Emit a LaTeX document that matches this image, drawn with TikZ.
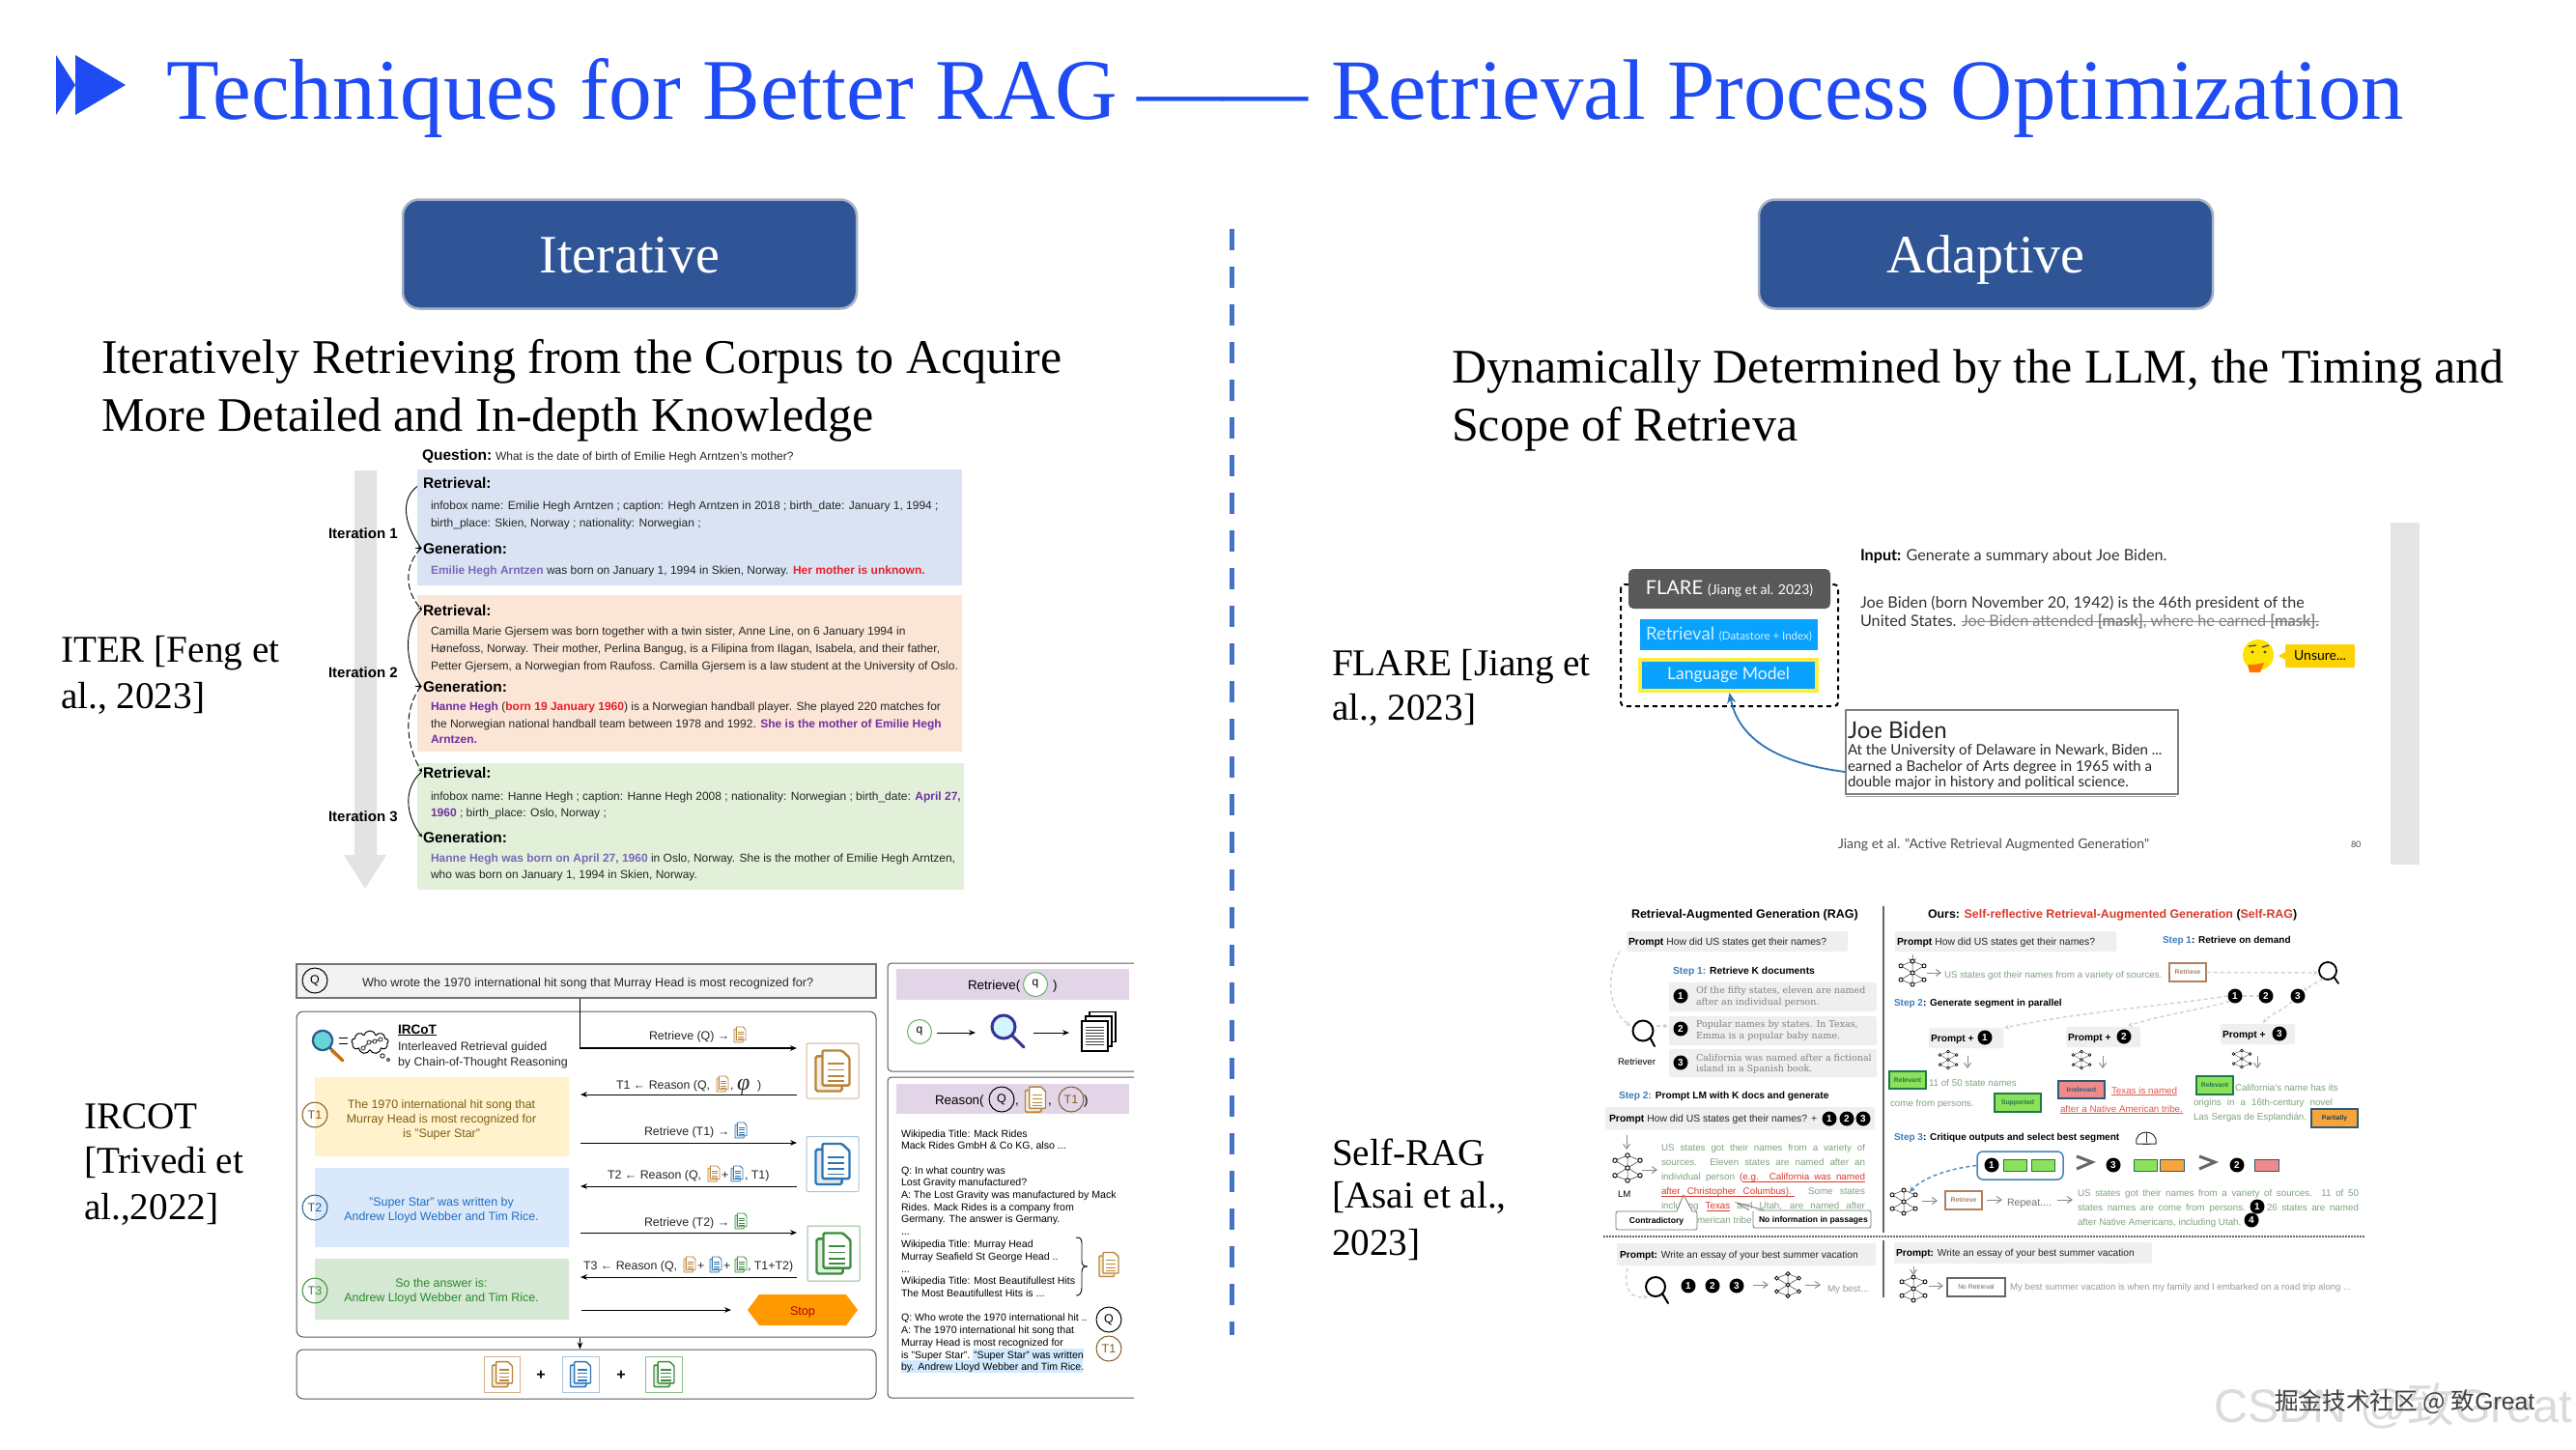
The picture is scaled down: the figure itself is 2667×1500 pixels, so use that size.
\documentclass[tikz,border=0pt]{standalone}
\usepackage{fontspec}
\usepackage{xcolor}
\usetikzlibrary{arrows.meta,shapes.symbols,shapes.geometric}
\setmainfont{Liberation Sans}
\newfontfamily\ser{Liberation Serif}
\newfontfamily\lat{Lato}
\newfontfamily\slab{DejaVu Serif}
\newfontfamily\cjk{Noto Sans CJK SC}
\definecolor{tblue}{HTML}{1F4BF5}
\definecolor{hbox}{HTML}{2F5597}
\definecolor{hedge}{HTML}{A5B3C4}
\definecolor{divb}{HTML}{4472C4}
\definecolor{pb}{HTML}{DAE3F3}
\definecolor{po}{HTML}{FBE5D6}
\definecolor{pg}{HTML}{E2F0D9}
\definecolor{lpur}{HTML}{7B68B8}
\definecolor{dpur}{HTML}{7030A0}
\definecolor{rred}{HTML}{E8202A}
\definecolor{docO}{HTML}{B9853A}
\definecolor{docB}{HTML}{2F74B5}
\definecolor{docG}{HTML}{3C8C3C}
\definecolor{frO}{HTML}{D0B48C}
\definecolor{frB}{HTML}{A9C4DC}
\definecolor{frG}{HTML}{8FBC8F}
\definecolor{boxY}{HTML}{FFF2CC}
\definecolor{boxB}{HTML}{DAE8FC}
\definecolor{boxG}{HTML}{D5E8D4}
\definecolor{tY}{HTML}{7F5F14}
\definecolor{tB}{HTML}{1F6FC0}
\definecolor{tG}{HTML}{2A8A2A}
\definecolor{lil}{HTML}{E1D5E7}
\definecolor{flareb}{HTML}{0AA2FF}
\definecolor{barg}{HTML}{EFEFEF}
\definecolor{stepb}{HTML}{3A7DBF}
\definecolor{ggr}{HTML}{7FA37F}
\definecolor{sred}{HTML}{D9392B}
\definecolor{tagG}{HTML}{8CE05A}
\definecolor{tagGd}{HTML}{1F7A4A}
\definecolor{tagR}{HTML}{EE8A8A}
\definecolor{tagO}{HTML}{F5A63A}
\definecolor{tagEd}{HTML}{2E5A7A}
\definecolor{tagB}{HTML}{B08060}
\newcount\tn
\newcommand\tx[5][]{\global\advance\tn by 1
  \node[txt,#1] (t\the\tn) at (#2,#3) {\fontsize{#4}{#4}\selectfont #5};}
\newcommand\arr[5]{\global\advance\tn by 1
  \coordinate (as\the\tn) at (#2,#3); \coordinate (ae\the\tn) at (#4,#5);
  \draw[#1] (as\the\tn) -- (ae\the\tn);}
\newcommand\docico[5]{\begin{scope}[shift={(#1,#2)},x=0.5*#3pt,y=-0.5*#4pt]
  \draw[draw=#5,fill=#5!15,line width=0.07*#3pt,rounded corners=0.05*#3pt] (-1,-.72) rectangle (.55,1);
  \draw[draw=#5,fill=white,line width=0.07*#3pt,rounded corners=0.04*#3pt] (-.6,-1) -- (.55,-1) -- (1,-.65) -- (1,.72) -- (-.6,.72) -- cycle;
  \foreach \yy in {-.35,-.05,.25,.5}{\draw[#5,line width=0.055*#3pt] (-.3,\yy) -- (.7,\yy);}
  \end{scope}}
\newcommand\neticon[3]{\begin{scope}[shift={(#1,#2)},x=#3pt,y=-#3pt]
  \draw[black!80,line width=0.04*#3pt] (-1,-.6) -- (0,-1) -- (1,-.6) -- (0,0) -- (-1,-.6) -- (0,.0) -- (-1,.6) -- (0,1) -- (1,.6) -- (0,0) (-1,-.6) -- (1,.6) (-1,.6) -- (1,-.6) (0,-1) -- (0,1);
  \foreach \px/\py in {-1/-.6,-1/.6,0/-1,0/0,0/1,1/-.6,1/.6}{\filldraw[fill=white,draw=black,line width=0.07*#3pt] (\px,\py) circle (.17);}
  \end{scope}}
\newcommand\numc[3]{\global\advance\tn by 1
  \node[numcirc] (n\the\tn) at (#1,#2) {\fontsize{10}{10}\selectfont #3};}
\newcommand\lens[6]{% cx cy r ex ey style
  \draw[#6] (#1,#2) circle (#3);
  \draw[#6,line cap=round] (#1+#3*0.7,#2+#3*0.7) -- (#4,#5);}
\newcommand\tagbox[7]{\global\advance\tn by 1
  \node[fill=#5,draw=#6,line width=1.2,minimum width={(#3-#1)*1pt},minimum height={(#4-#2)*1pt},inner sep=0,text=#7] (g\the\tn) at ({(#1+#3)/2},{(#2+#4)/2}) {\fontsize{6.8}{8}\selectfont\bfseries \tagtext};}
\newcommand\tagtext{}
\tikzset{
  txt/.style={anchor=base west,inner sep=0,outer sep=0},
  ctxt/.style={anchor=base,inner sep=0,outer sep=0},
  numcirc/.style={circle,fill=black,text=white,inner sep=0,minimum size=15pt,font=\bfseries},
  ar/.style={line width=1,-{Stealth[length=7pt,width=5.5pt]}},
  gar/.style={line width=1,draw=black!45,-{Straight Barb[length=5pt,width=7pt]}},
  gdash/.style={line width=1.4,draw=black!18,dash pattern=on 4pt off 3pt,-{Stealth[length=5pt,width=5pt]}},
  cbr/.style={line width=.9,-{Stealth[length=4pt,width=4pt]}},
  cbrd/.style={cbr,dash pattern=on 7pt off 3pt},
  circO/.style={circle,draw=#1,line width=1,inner sep=0,minimum size=26pt,fill=none},
  bar/.style={fill=barg,rounded corners=2},
}
\begin{document}
\begin{tikzpicture}[x=1pt,y=-1pt]
\useasboundingbox (0,0) rectangle (2667,1500);
\fill[white] (0,0) rectangle (2667,1500);
% ---------- title ----------
\fill[tblue] (58,57) -- (78,88) -- (78,57) -- (130,88) -- (78,119) -- (78,88) -- (58,119) -- cycle;
\tx[text=tblue]{172}{123}{89.5}{\ser Techniques for Better RAG}
\tx[text=tblue]{1177}{123}{88.9}{\ser ——}
\tx[text=tblue]{1378}{123}{88.9}{\ser Retrieval Process Optimization}
% headers
\node[fill=hbox,draw=hedge,line width=2.5,rounded corners=17,minimum width=470pt,minimum height=113pt,inner sep=0] (iterbox) at (652,263) {};
\tx[ctxt,text=white]{652}{282}{56}{\ser Iterative}
\node[fill=hbox,draw=hedge,line width=2.5,rounded corners=17,minimum width=470pt,minimum height=113pt,inner sep=0] (adapbox) at (2056,263) {};
\tx[ctxt,text=white]{2056}{282}{56}{\ser Adaptive}
\tx{105}{386}{50}{\ser Iteratively Retrieving from the Corpus to Acquire}
\tx{105}{446}{50}{\ser More Detailed and In-depth Knowledge}
\tx{1503}{396}{50}{\ser Dynamically Determined by the LLM, the Timing and}
\tx{1503}{456}{50}{\ser Scope of Retrieva}
\tx{63}{685}{39.2}{\ser ITER [Feng et}
\tx{63}{733}{39.2}{\ser al., 2023]}
\tx{87}{1168}{39.2}{\ser IRCOT}
\tx{87}{1214}{39.2}{\ser [Trivedi et}
\tx{87}{1262}{39.2}{\ser al.,2022]}
\tx{1379}{699}{39.2}{\ser FLARE [Jiang et}
\tx{1379}{745}{39.2}{\ser al., 2023]}
\tx{1379}{1206}{39.2}{\ser Self-RAG}
\tx{1379}{1250}{39.2}{\ser [Asai et al.,}
\tx{1379}{1299}{39.2}{\ser 2023]}
\arr{divb,line width=5,dash pattern=on 22pt off 17pt}{1275}{237}{1275}{1382}
% ---------- ITER panel ----------
\fill[black!11] (367,487) -- (390,487) -- (390,885) -- (400,885) -- (378,920) -- (356,885) -- (367,885) -- cycle;
\fill[pb] (432,486) rectangle (996,606);
\fill[po] (432,616) rectangle (996,778);
\fill[pg] (432,790) rectangle (998,921);
\tx{437}{476}{15.5}{\bfseries Question:}
\tx[text=black!85]{513}{476}{12}{What is the date of birth of Emilie Hegh Arntzen's mother?}
\node[txt] (r1) at (438,505) {\fontsize{15.5}{16}\selectfont\bfseries Retrieval:};
\node[txt] (g1) at (438,573) {\fontsize{15.5}{16}\selectfont\bfseries Generation:};
\node[txt] (r2) at (438,637) {\fontsize{15.5}{16}\selectfont\bfseries Retrieval:};
\node[txt] (g2) at (438,716) {\fontsize{15.5}{16}\selectfont\bfseries Generation:};
\node[txt] (r3) at (438,805) {\fontsize{15.5}{16}\selectfont\bfseries Retrieval:};
\node[txt] (g3) at (438,872) {\fontsize{15.5}{16}\selectfont\bfseries Generation:};
\draw[line width=.9] ([xshift=-6pt,yshift=-4pt]r1.west) .. controls +(-16,12) and +(-20,-28) .. ([xshift=-2pt]g1.west);
\draw[cbr] ([xshift=-8pt]g1.west) -- ([xshift=-1pt]g1.west);
\draw[cbrd] ([xshift=-2pt]g1.west) .. controls +(-18,18) and +(-18,-20) .. ([xshift=-1pt]r2.west);
\draw[line width=.9] ([xshift=-2pt]r2.west) .. controls +(-18,16) and +(-18,-24) .. ([xshift=-2pt]g2.west);
\draw[cbr] ([xshift=-8pt]g2.west) -- ([xshift=-1pt]g2.west);
\draw[cbrd] ([xshift=-2pt]g2.west) .. controls +(-18,22) and +(-18,-30) .. ([xshift=-1pt]r3.west);
\draw[cbr] ([xshift=-2pt]r3.west) .. controls +(-18,16) and +(-18,-24) .. ([xshift=-1pt]g3.west);
\tx[text=black!85]{446}{527}{12}{infobox name: Emilie Hegh Arntzen ; caption: Hegh Arntzen in 2018 ; birth\_date: January 1, 1994 ;}
\tx[text=black!85]{446}{545}{12}{birth\_place: Skien, Norway ; nationality: Norwegian ;}
\tx[text=black!85]{446}{594}{12}{\textcolor{lpur}{\bfseries Emilie Hegh Arntzen} was born on January 1, 1994 in Skien, Norway. \textcolor{rred}{\bfseries Her mother is unknown.}}
\tx[text=black!85]{446}{657}{12}{Camilla Marie Gjersem was born together with a twin sister, Anne Line, on 6 January 1994 in}
\tx[text=black!85]{446}{675}{12}{Hønefoss, Norway. Their mother, Perlina Bangug, is a Filipina from Ilagan, Isabela, and their father,}
\tx[text=black!85]{446}{693}{12}{Petter Gjersem, a Norwegian from Raufoss. Camilla Gjersem is a law student at the University of Oslo.}
\tx[text=black!85]{446}{735}{12}{\textcolor{dpur}{\bfseries Hanne Hegh} (\textcolor{rred}{\bfseries born 19 January 1960}) is a Norwegian handball player. She played 220 matches for}
\tx[text=black!85]{446}{753}{12}{the Norwegian national handball team between 1978 and 1992. \textcolor{dpur}{\bfseries She is the mother of Emilie Hegh}}
\tx[text=dpur]{446}{769}{12}{\bfseries Arntzen.}
\tx[text=black!85]{446}{828}{12}{infobox name: Hanne Hegh ; caption: Hanne Hegh 2008 ; nationality: Norwegian ; birth\_date: \textcolor{dpur}{\bfseries April 27,}}
\tx[text=black!85]{446}{845}{12}{\textcolor{dpur}{\bfseries 1960} ; birth\_place: Oslo, Norway ;}
\tx[text=black!85]{446}{892}{12}{\textcolor{lpur}{\bfseries Hanne Hegh was born on April 27, 1960} in Oslo, Norway. She is the mother of Emilie Hegh Arntzen,}
\tx[text=black!85]{446}{909}{12}{who was born on January 1, 1994 in Skien, Norway.}
\tx{340}{557}{15}{\bfseries Iteration 1}
\tx{340}{701}{15}{\bfseries Iteration 2}
\tx{340}{850}{15}{\bfseries Iteration 3}
% ---------- IRCOT panel ----------
\node[draw=black!55,fill=black!5,line width=1.5,minimum width=600pt,minimum height=35pt,inner sep=0] (qbox) at (607,1015.5) {};
\node[circO=black] (qc) at (326,1015) {\fontsize{12.5}{14}\selectfont Q};
\tx[text=black!85]{375}{1021}{12.6}{Who wrote the 1970 international hit song that Murray Head is most recognized for?}
\node[draw=black!65,line width=1,rounded corners=7,minimum width=600pt,minimum height=337pt,inner sep=0] (mainbox) at (607,1215.5) {};
\node[draw=black!65,line width=1,rounded corners=7,minimum width=600pt,minimum height=51pt,inner sep=0] (botbox) at (607,1422.5) {};
\coordinate (qdown) at (600.5,1085);
\coordinate (qto) at (825,1085);
\draw[ar,line width=1.2] (qbox.south -| qdown) -- (qdown) -- (qto);
\draw[ar] (mainbox.south -| qdown) -- (botbox.north -| qdown);
% ircot icons
\lens{334}{1077}{10}{355}{1098}{draw=docB!80!black,line width=2.5}
\fill[teal!55!cyan!60] (334,1077) circle (8.6);
\draw[draw=orange!85!black,line width=3.2,line cap=round] (343,1087) -- (355,1098);
\draw[line width=1] (351,1074) -- (360,1074);\draw[line width=1] (351,1080) -- (360,1080);
\node[cloud,cloud puffs=9,draw=black,line width=1,minimum width=38pt,minimum height=24pt,aspect=1.5,inner sep=0] (cloudn) at (383,1079) {};
\draw[black!70,line width=1.3] (376,1085) -- (382,1079) -- (394,1076);
\foreach \cx/\cy in {376/1085,382/1079,388/1078,394/1076}{\filldraw[fill=white,draw=black!70,line width=1] (\cx,\cy) circle (2);}
\draw[line width=.8] (396,1093) circle (2.2); \draw[line width=.8] (402,1097) circle (1.6);
\tx{412}{1070}{13.6}{\bfseries\underline{IRCoT}}
\tx[text=black!85]{412}{1087}{12.4}{Interleaved Retrieval guided}
\tx[text=black!85]{412}{1103}{12.4}{by Chain-of-Thought Reasoning}
\fill[boxY,rounded corners=1] (326,1115) rectangle (589,1197);
\fill[boxB,rounded corners=1] (326,1209) rectangle (589,1291);
\fill[boxG,rounded corners=1] (326,1303) rectangle (589,1366);
\node[circO=docO!70!black] (ct1) at (326,1154) {\fontsize{12.5}{14}\selectfont\color{docO!70!black}T1};
\node[circO=docB!80!black] (ct2) at (326,1250) {\fontsize{12.5}{14}\selectfont\color{docB!80!black}T2};
\node[circO=docG] (ct3) at (326,1336) {\fontsize{12.5}{14}\selectfont\color{docG}T3};
\tx[ctxt,text=tY]{457}{1147}{12.4}{The 1970 international hit song that}
\tx[ctxt,text=tY]{457}{1162}{12.4}{Murray Head is most recognized for}
\tx[ctxt,text=tY]{457}{1177}{12.4}{is "Super Star"}
\tx[ctxt,text=tB]{457}{1248}{12.4}{"Super Star" was written by}
\tx[ctxt,text=tB]{457}{1263}{12.4}{Andrew Lloyd Webber and Tim Rice.}
\tx[ctxt,text=tG]{457}{1332}{12.4}{So the answer is:}
\tx[ctxt,text=tG]{457}{1347}{12.4}{Andrew Lloyd Webber and Tim Rice.}
\arr{ar}{825}{1133}{601}{1133}
\arr{ar}{601}{1183}{825}{1183}
\arr{ar}{825}{1228}{601}{1228}
\arr{ar}{601}{1276}{825}{1276}
\arr{ar}{825}{1322}{601}{1322}
\arr{ar}{602}{1356}{757}{1356}
\tx[text=black!85]{672}{1076}{12.4}{Retrieve (Q) →}
\docico{766}{1071}{12}{16}{docO}
\tx[text=black!85]{638}{1127}{12.4}{T1 ← Reason (Q,}
\docico{748}{1122}{12}{16}{docO}
\tx[text=black!85]{756}{1127}{12.4}{,}
\tx[text=black!85]{763}{1128}{24}{\ser\itshape φ}
\tx[text=black!85]{784}{1127}{12.4}{)}
\tx[text=black!85]{667}{1175}{12.4}{Retrieve (T1) →}
\docico{767}{1170}{12}{16}{docB}
\tx[text=black!85]{629}{1220}{12.4}{T2 ← Reason (Q,}
\docico{739}{1215}{12}{16}{docO}
\tx[text=black!85]{747}{1220}{12.4}{+}
\docico{763}{1215}{12}{16}{docB}
\tx[text=black!85]{771}{1220}{12.4}{, T1)}
\tx[text=black!85]{667}{1269}{12.4}{Retrieve (T2) →}
\docico{767}{1264}{12}{16}{docG}
\tx[text=black!85]{604}{1314}{12.4}{T3 ← Reason (Q,}
\docico{714}{1309}{12}{16}{docO}
\tx[text=black!85]{722}{1314}{12.4}{+}
\docico{741}{1309}{12}{16}{docB}
\tx[text=black!85]{749}{1314}{12.4}{+}
\docico{767}{1309}{12}{16}{docG}
\tx[text=black!85]{774}{1314}{12.4}{, T1+T2)}
\node[draw=frO,line width=1,rounded corners=1,minimum width=54pt,minimum height=57pt,inner sep=0] (fr1) at (862,1108.5) {};
\node[draw=frB,line width=1,rounded corners=1,minimum width=54pt,minimum height=57pt,inner sep=0] (fr2) at (862,1205) {};
\node[draw=frG,line width=1,rounded corners=1,minimum width=54pt,minimum height=57pt,inner sep=0] (fr3) at (863,1297.5) {};
\docico{862}{1108.5}{35}{42}{docO}
\docico{862}{1205}{35}{42}{docB}
\docico{863}{1297.5}{35}{42}{docG}
\fill[orange!80!yellow] (774,1356) -- (786,1340) -- (876,1340) -- (888,1356) -- (876,1372) -- (786,1372) -- cycle;
\tx[ctxt,text=red!70!black]{831}{1361}{12.6}{Stop}
\node[draw=frO,line width=.9,minimum width=37.5pt,minimum height=37pt,inner sep=0] (fb1) at (520,1422.5) {};
\node[draw=frB,line width=.9,minimum width=38pt,minimum height=37pt,inner sep=0] (fb2) at (601,1422.5) {};
\node[draw=frG,line width=.9,minimum width=38pt,minimum height=37pt,inner sep=0] (fb3) at (687.5,1422.5) {};
\docico{520}{1422.5}{21}{26}{docO}
\docico{601}{1422.5}{21}{26}{docB}
\docico{687.5}{1422.5}{21}{26}{docG}
\tx[ctxt]{560}{1428.5}{16}{\bfseries +}
\tx[ctxt]{643}{1428.5}{16}{\bfseries +}
% right sub-panels
\draw[black!65,line width=1,rounded corners=4] (1174,997) -- (919,997) -- (919,1109) -- (1174,1109);
\draw[black!65,line width=1,rounded corners=4] (1174,1115) -- (919,1115) -- (919,1447) -- (1174,1447);
\fill[lil] (928,1003) rectangle (1169,1035);
\fill[lil] (928,1122) rectangle (1169,1153);
\tx{1002}{1024}{13.4}{Retrieve(}
\node[circO=green!50!black!60,minimum size=25pt,fill=white] (cq1) at (1072,1019) {\fontsize{12}{14}\selectfont q};
\tx{1090}{1024}{13.4}{)}
\node[circO=green!50!black!60,minimum size=25pt] (cq2) at (952,1068) {\fontsize{12}{14}\selectfont q};
\coordinate (lensr) at (1027,1069); \coordinate (lensl) at (1010,1069);
\draw[ar] (cq2.east) ++(5,1) -- (lensl);
\fill[blue!20!cyan!18] (1039,1063) circle (11);
\draw[draw=blue!50!black!80,line width=3] (1039,1063) circle (12);
\draw[draw=blue!50!black!80,line width=3,line cap=round] (1048,1072) -- (1060,1084);
\coordinate (lensa) at (1070,1069); \coordinate (lensb) at (1107,1069);
\draw[ar] (lensa) -- (lensb);
\foreach \dx in {8,4,0}{\filldraw[fill=white,draw=black,line width=1.6] (1120+\dx,1057-\dx*1.2) rectangle (1147+\dx,1088-\dx*1.2);}
\foreach \yy in {1063,1066,1069,1072,1075,1078,1081}{\draw[black!75,line width=.8] (1124,\yy) -- (1143,\yy);}
\tx{968}{1143}{13.4}{Reason(}
\node[circO=black,minimum size=26pt] (cq3) at (1037,1138) {\fontsize{12.5}{14}\selectfont Q};
\tx{1051}{1143}{13.4}{,}
\docico{1072}{1138}{21}{26}{docO}
\tx{1085}{1143}{13.4}{,}
\node[circO=docO!70!black,minimum size=26pt] (ct4) at (1109,1138) {\fontsize{12.5}{14}\selectfont\color{docO!70!black}T1};
\tx{1122}{1143}{13.4}{)}
\fill[blue!45!cyan!18] (1007,1396) rectangle (1122,1408);
\fill[blue!45!cyan!18] (933,1408) rectangle (1121,1421);
\tx{933}{1177}{10.6}{Wikipedia Title: Mack Rides}
\tx{933}{1189}{10.6}{Mack Rides GmbH \& Co KG, also ...}
\tx{933}{1215}{10.6}{Q: In what country was}
\tx{933}{1227}{10.6}{Lost Gravity manufactured?}
\tx{933}{1240}{10.6}{A: The Lost Gravity was manufactured by Mack}
\tx{933}{1253}{10.6}{Rides. Mack Rides is a company from}
\tx{933}{1265}{10.6}{Germany. The answer is Germany.}
\tx{933}{1278}{10.6}{...}
\tx{933}{1291}{10.6}{Wikipedia Title: Murray Head}
\tx{933}{1304}{10.6}{Murray Seafield St George Head ..}
\tx{933}{1317}{10.6}{...}
\tx{933}{1329}{10.6}{Wikipedia Title: Most Beautifullest Hits}
\tx{933}{1342}{10.6}{The Most Beautifullest Hits is ...}
\tx{933}{1367}{10.6}{Q: Who wrote the 1970 international hit ..}
\tx{933}{1380}{10.6}{A: The 1970 international hit song that}
\tx{933}{1393}{10.6}{Murray Head is most recognized for}
\tx{933}{1406}{10.6}{is "Super Star". "Super Star" was written}
\tx{933}{1418}{10.6}{by. Andrew Lloyd Webber and Tim Rice.}
\draw[line width=.9] (1114,1281) .. controls (1120,1281) and (1120,1283) .. (1120,1290) -- (1120,1305) .. controls (1120,1310) and (1122,1311) .. (1126,1311) .. controls (1122,1311) and (1120,1312) .. (1120,1317) -- (1120,1332) .. controls (1120,1340) and (1117,1341) .. (1114,1341);
\docico{1148}{1309}{20}{25}{docO}
\node[circO=black,minimum size=26pt] (cq4) at (1148,1366) {\fontsize{12.5}{14}\selectfont Q};
\node[circO=docO!70!black,minimum size=26pt] (ct5) at (1148,1396) {\fontsize{12.5}{14}\selectfont\color{docO!70!black}T1};
% ---------- FLARE ----------
\fill[black!10] (2475,541) rectangle (2505,895);
\draw[black,line width=2,dash pattern=on 5pt off 4pt,rounded corners=4] (1678,605) rectangle (1903,731);
\node[fill=black!65,rounded corners=5,minimum width=209pt,minimum height=41pt,inner sep=0,text=white] (flare) at (1790.5,609.5) {\lat\fontsize{20}{22}\selectfont FLARE {\fontsize{14}{16}\selectfont (Jiang et al. 2023)}};
\node[fill=flareb,minimum width=184pt,minimum height=32pt,inner sep=0,text=cyan!20] (ret) at (1790,657) {\lat\fontsize{18.5}{22}\selectfont Retrieval {\fontsize{11.5}{14}\selectfont (Datastore + Index)}};
\node[fill=flareb,draw=yellow!90!orange!75,line width=4,minimum width=183pt,minimum height=32pt,inner sep=0,text=white!90!cyan] (lm) at (1789.5,699) {\lat\fontsize{17.5}{22}\selectfont Language Model};
\tx{1926}{580}{16.2}{\lat\bfseries Input: \mdseries\color{black!80}Generate a summary about Joe Biden.}
\tx[text=black!80]{1926}{629}{16.2}{\lat Joe Biden (born November 20, 1942) is the 46th president of the}
\tx[text=black!80]{1926}{648}{16.2}{\lat United States.}
\node[txt,text=black!50] (strk) at (2031,648) {\lat\fontsize{16.2}{18}\selectfont Joe Biden attended {\bfseries [mask]}, where he earned {\bfseries [mask].}};
\draw[black!50,line width=.8] ([yshift=5pt]strk.base west) -- ([yshift=5pt]strk.base east);
% thinking face
\fill[yellow!85!orange] (2338,678) circle (16);
\fill[orange!90!red] (2334,688) -- (2344,686) -- (2340,696) -- (2329,696) -- (2327,688) -- cycle;
\fill[black!75] (2332,675) circle (1.6) (2345,675) circle (1.6);
\draw[black!75,line width=1.2] (2328,669) -- (2336,668) (2342,670) -- (2349,668);
\node[fill=yellow!70!orange,rounded corners=2,minimum width=72pt,minimum height=24pt,inner sep=0] (unsure) at (2402,679) {\fontsize{14}{16}\lat\selectfont Unsure...};
\fill[yellow!70!orange] (2366,675) -- (2359,679) -- (2366,683) -- cycle;
\node[draw=black!50,line width=1.5,fill=white,minimum width=344pt,minimum height=87pt,inner sep=0] (jb) at (2083,778.5) {};
\draw[black!35,line width=1.5] (jb.south west) ++(1,1.6) -- ++(342,0);
\tx[text=black!85]{1913}{764}{24}{\lat Joe Biden}
\tx[text=black!85]{1913}{781}{15}{\lat At the University of Delaware in Newark, Biden ...}
\tx[text=black!85]{1913}{798}{15}{\lat earned a Bachelor of Arts degree in 1965 with a}
\tx[text=black!85]{1913}{814}{15}{\lat double major in history and political science.}
\coordinate (jbw) at (jb.west |- 0,799);
\draw[draw=docB,line width=1.8,-{Stealth[length=11pt,width=9pt]}] (jbw) .. controls (1840,790) and (1800,765) .. ([xshift=1pt]lm.south);
\tx[text=black!70]{1903}{878}{14}{\lat Jiang et al. "Active Retrieval Augmented Generation"}
\tx[text=black!70]{2434}{877}{9}{\lat 80}
% ---------- Self-RAG left ----------
\arr{black!60,line width=1.4}{1950}{938}{1950}{1276}
\arr{black!60,line width=1.4}{1950}{1284}{1950}{1343}
\arr{black!60,line width=1.2,dash pattern=on 1.5pt off 1.5pt}{1660}{1280}{2448}{1280}
\tx{1689}{950}{12.5}{\bfseries Retrieval-Augmented Generation (RAG)}
\fill[bar] (1684,964) rectangle (1913,985);
\tx{1686}{978}{10.4}{{\bfseries Prompt} \color{black!85}How did US states get their names?}
\tx{1732}{1008}{10.3}{\bfseries\textcolor{stepb}{Step 1:} Retrieve K documents}
\fill[bar] (1728,1017) rectangle (1943,1047);
\fill[bar] (1728,1052) rectangle (1943,1082);
\fill[bar] (1728,1086) rectangle (1943,1115);
\numc{1740}{1031}{1}
\numc{1740}{1065}{2}
\numc{1740}{1100}{3}
\tx[text=black!50]{1756}{1028}{9.5}{\slab Of the fifty states, eleven are named}
\tx[text=black!50]{1756}{1040}{9.5}{\slab after an individual person.}
\tx[text=black!50]{1756}{1063}{9.5}{\slab Popular names by states. In Texas,}
\tx[text=black!50]{1756}{1075}{9.5}{\slab Emma is a popular baby name.}
\tx[text=black!50]{1756}{1098}{9.5}{\slab California was named after a fictional}
\tx[text=black!50]{1756}{1109}{9.5}{\slab island in a Spanish book.}
\lens{1701}{1067}{10.5}{1713}{1083}{draw=black,line width=2}
\tx{1675}{1102}{9.6}{Retriever}
\coordinate (pb1) at (1677,985); \coordinate (lensL) at (1688,1062);
\draw[gdash] (pb1) .. controls (1662,1010) and (1665,1045) .. (lensL);
\arr{gdash}{1715}{1062}{1727}{1062}
\tx{1676}{1137}{10.2}{\bfseries\textcolor{stepb}{Step 2:} Prompt LM with K docs and generate}
\fill[bar] (1662,1146) rectangle (1941,1169);
\tx{1666}{1161}{10.4}{{\bfseries Prompt} \color{black!85}How did US states get their names? +}
\numc{1894}{1158}{1}
\numc{1912}{1158}{2}
\numc{1929}{1158}{3}
\arr{gar}{1684}{1175}{1684}{1190}
\neticon{1685}{1209}{13}
\tx{1675}{1239}{9.6}{LM}
\arr{gar}{1700}{1211}{1716}{1211}
\tx[text=ggr]{1720}{1191}{9.8}{\makebox[211pt][s]{US states got their names from a variety of}}
\tx[text=ggr]{1720}{1206}{9.8}{\makebox[211pt][s]{sources. Eleven states are named after an}}
\tx[text=ggr]{1720}{1221}{9.8}{\makebox[211pt][s]{individual person \textcolor{sred}{(e.g. California was named}}}
\tx[text=ggr]{1720}{1236}{9.8}{\makebox[211pt][s]{\textcolor{sred}{after Christopher Columbus).} Some states}}
\tx[text=ggr]{1720}{1251}{9.8}{\makebox[211pt][s]{including \textcolor{sred}{Texas} and Utah, are named after}}
\tx[text=ggr]{1757}{1266}{9.8}{merican tribe}
\arr{sred,line width=.7}{1804}{1223}{1931}{1223}
\arr{sred,line width=.7}{1720}{1238}{1858}{1238}
\arr{sred,line width=.7}{1767}{1253}{1791}{1253}
\node[fill=white,draw=black!55,line width=.8,rounded corners=2,minimum width=84pt,minimum height=19pt,inner sep=0] (contr) at (1715,1263.5) {};
\fill[white] (1736,1255) -- (1743,1237) -- (1752,1255) -- cycle;
\draw[black!55,line width=.8] ([xshift=21pt]contr.north) -- (1743,1237) -- ([xshift=37pt]contr.north);
\tx[ctxt]{1715}{1266}{8.6}{\bfseries Contradictory}
\node[fill=white,draw=black!55,line width=.8,rounded corners=2,minimum width=122pt,minimum height=18pt,inner sep=0] (noinf) at (1876,1262) {};
\fill[white] (1811,1254) -- (1798,1245) -- (1822,1254) -- cycle;
\draw[black!55,line width=.8] ([xshift=-65pt]noinf.north) -- (1798,1245) -- ([xshift=-50pt]noinf.north);
\tx{1821}{1265}{8.6}{\bfseries No information in passages}
\fill[bar] (1674,1287) rectangle (1942,1310);
\tx{1677}{1302}{10.2}{{\bfseries Prompt:} \color{black!85}Write an essay of your best summer vacation}
\lens{1714}{1332}{10}{1727}{1349}{draw=black,line width=2}
\coordinate (p3a) at (1685,1313); \coordinate (p3b) at (1706,1342);
\draw[gdash] (p3a) .. controls (1680,1335) and (1690,1345) .. (p3b);
\numc{1748}{1331}{1}
\numc{1773}{1331}{2}
\numc{1798}{1331}{3}
\arr{gar}{1815}{1330}{1831}{1330}
\neticon{1851}{1330}{11.5}
\arr{gar}{1869}{1330}{1885}{1330}
\tx[text=black!40]{1892}{1337}{9.8}{My best...}
% ---------- Self-RAG right ----------
\tx{1996}{950}{12.4}{\bfseries Ours: \textcolor{sred}{Self-reflective Retrieval-Augmented Generation} (\textcolor{sred}{Self-RAG})}
\fill[bar] (1962,964) rectangle (2191,985);
\tx{1964}{978}{10.4}{{\bfseries Prompt} \color{black!85}How did US states get their names?}
\tx{2239}{976}{10}{\bfseries\textcolor{stepb}{Step 1}: Retrieve on demand}
\arr{gar}{1980}{988}{1980}{998}
\neticon{1980}{1007}{12}
\arr{gar}{1995}{1007}{2010}{1007}
\tx[text=ggr]{2013}{1012}{9.8}{US states got their names from a variety of sources.}
\renewcommand\tagtext{Retrieve}
\tagbox{2246}{997}{2284}{1016}{white}{tagB}{tagB}
\lens{2410}{1005}{9}{2421}{1018}{draw=black,line width=1.8}
\coordinate (lensT) at (2400,1007);
\draw[gdash] (g\the\tn.east) -- (lensT);
\numc{2314}{1031}{1}
\edef\nA{n\the\tn}
\numc{2346}{1031}{2}
\numc{2379}{1031}{3}
\edef\nC{n\the\tn}
\draw[gdash,-] (\nA.east) -- (2338,1031);
\coordinate (lensB) at (2405,1013);
\draw[gdash] (lensB) -- (\nC.north east);
\tx{1961}{1041}{10}{\bfseries\textcolor{stepb}{Step 2}: Generate segment in parallel}
\fill[bar] (1997,1064) rectangle (2074,1085);
\fill[bar] (2139,1063) rectangle (2216,1084);
\fill[bar] (2299,1060) rectangle (2376,1081);
\coordinate (p1t) at (2075,1064); \coordinate (p2t) at (2203,1062); \coordinate (p3t) at (2343,1059);
\draw[gdash] (\nA.west) .. controls (2250,1040) and (2150,1048) .. (p1t);
\draw[gdash] (\nA.south west) .. controls (2280,1045) and (2240,1050) .. (p2t);
\draw[gdash] (\nC.south west) .. controls (2365,1045) and (2350,1050) .. (p3t);
\tx{1999}{1078}{10.2}{\bfseries Prompt +}
\numc{2055}{1074}{1}
\tx{2141}{1077}{10.2}{\bfseries Prompt +}
\numc{2199}{1073}{2}
\tx{2301}{1074}{10.2}{\bfseries Prompt +}
\numc{2360}{1070}{3}
\neticon{2017}{1097}{8.5}
\neticon{2155}{1097}{8.5}
\neticon{2321}{1096}{8.5}
\arr{gar}{2037}{1093}{2037}{1106}
\arr{gar}{2177}{1093}{2177}{1106}
\arr{gar}{2337}{1093}{2337}{1106}
\renewcommand\tagtext{Relevant}
\tagbox{1956}{1109}{1994}{1127}{tagG}{tagGd}{tagGd}
\tx[text=ggr]{1997}{1124}{9.8}{11 of 50 state names}
\tx[text=ggr]{1957}{1145}{9.8}{come from persons.}
\renewcommand\tagtext{Supported}
\tagbox{2065}{1132}{2113}{1151}{tagG}{tagGd}{tagGd}
\renewcommand\tagtext{Irrelevant}
\tagbox{2131}{1119}{2179}{1137}{tagR}{tagEd}{tagEd}
\tx[text=sred!85]{2186}{1132}{9.8}{\underline{Texas is named}}
\tx[text=sred!85]{2133}{1151}{9.8}{\underline{after a Native American tribe.}}
\renewcommand\tagtext{Relevant}
\tagbox{2274}{1114}{2312}{1133}{tagG}{tagGd}{tagGd}
\tx[text=ggr]{2314}{1129}{9.8}{California's name has its}
\tx[text=ggr]{2271}{1144}{9.8}{\makebox[144pt][s]{origins in a 16th-century novel}}
\tx[text=ggr]{2271}{1159}{9.8}{Las Sergas de Esplandián.}
\renewcommand\tagtext{Partially}
\tagbox{2393}{1148}{2441}{1167}{tagO}{tagEd}{tagEd!70!black}
\tx{1961}{1180}{10}{\bfseries\textcolor{stepb}{Step 3}: Critique outputs and select best segment}
\draw[black!80,line width=1] (2212,1184) .. controls (2209,1168) and (2235,1168) .. (2232,1184) -- cycle;
\draw[black!80,line width=1] (2222,1172) -- (2222,1183) (2218,1184) -- (2226,1184);
\node[draw=docB!90,line width=1.5,rounded corners=6,minimum width=89pt,minimum height=29pt,inner sep=0] (best) at (2091.5,1206.5) {};
\numc{2062}{1206}{1}
\filldraw[fill=tagG,draw=tagGd,line width=1] (2074,1200) rectangle (2098,1212);
\filldraw[fill=tagG,draw=tagGd,line width=1] (2103,1200) rectangle (2127,1212);
\draw[black!60,line width=3] (2150,1197) -- (2166,1203) -- (2150,1210);
\numc{2188}{1206}{3}
\filldraw[fill=tagG,draw=tagGd,line width=1] (2209,1200) rectangle (2233,1212);
\filldraw[fill=tagO,draw=tagEd,line width=1] (2236,1200) rectangle (2261,1212);
\draw[black!60,line width=3] (2277,1197) -- (2293,1203) -- (2277,1210);
\numc{2316}{1206}{2}
\filldraw[fill=tagR,draw=tagEd,line width=1] (2334,1200) rectangle (2359,1212);
\coordinate (netB) at (1977,1234);
\draw[draw=docB!80,line width=1.5,dash pattern=on 4pt off 3pt,-{Stealth[length=6pt,width=6pt]}] (best.west) .. controls (2015,1210) and (1990,1220) .. (netB);
\neticon{1971}{1244}{12}
\arr{gar}{1990}{1243}{2006}{1243}
\renewcommand\tagtext{Retrieve}
\tagbox{2014}{1233}{2052}{1252}{white}{tagB}{tagB}
\arr{gar}{2057}{1242}{2073}{1242}
\tx[text=black!55]{2078}{1248}{10.6}{Repeat....}
\arr{gar}{2130}{1242}{2146}{1242}
\tx[text=ggr]{2151}{1238}{9.8}{\makebox[291pt][s]{US states got their names from a variety of sources. 11 of 50}}
\tx[text=ggr]{2151}{1253}{9.8}{\makebox[174pt][s]{states names are come from persons.}}
\tx[text=ggr]{2347}{1253}{9.8}{\makebox[95pt][s]{26 states are named}}
\tx[text=ggr]{2151}{1268}{9.8}{after Native Americans, including Utah.}
\numc{2337}{1249}{1}
\numc{2331}{1263}{4}
\fill[bar] (1961,1286) rectangle (2228,1308);
\tx{1963}{1300}{10.2}{{\bfseries Prompt:} \color{black!85}Write an essay of your best summer vacation}
\arr{gar}{1981}{1311}{1981}{1320}
\neticon{1981}{1334}{12}
\arr{gar}{1997}{1331}{2012}{1331}
\renewcommand\tagtext{\mdseries No Retrieval}
\tagbox{2016}{1323}{2076}{1342}{white}{black!60}{black!60}
\tx[text=black!40]{2081}{1335}{9.6}{My best summer vacation is when my family and I embarked on a road trip along ...}
% ---------- watermarks ----------
\tx[text=black!14]{2292}{1472}{48.6}{CSDN @{\cjk 致}Great}
\tx[text=black!75]{2355}{1459}{24.7}{\cjk 掘金技术社区 @ 致{\rmfamily Great}}
\end{tikzpicture}
\end{document}
